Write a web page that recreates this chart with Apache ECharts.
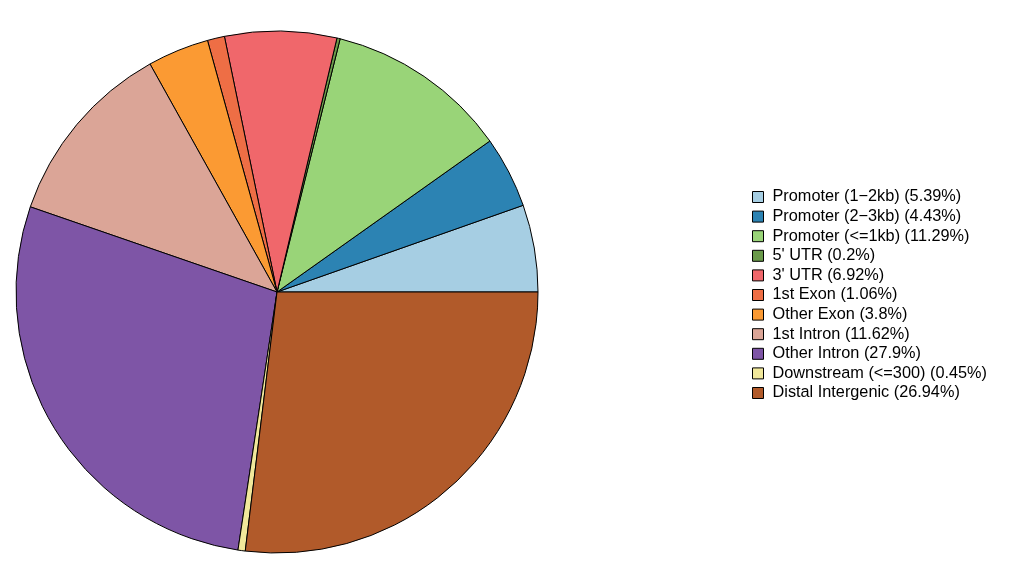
<!DOCTYPE html>
<html><head><meta charset="utf-8">
<script src="https://cdn.jsdelivr.net/npm/echarts@6/dist/echarts.min.js"></script>
<style>html,body{margin:0;padding:0;background:#fff}#c{width:1011px;height:582px}</style>
</head><body><div id="c"></div>
<script>
const categories = ["Promoter (1\u22122kb)", "Promoter (2\u22123kb)", "Promoter (<=1kb)", "5' UTR", "3' UTR", "1st Exon", "Other Exon", "1st Intron", "Other Intron", "Downstream (<=300)", "Distal Intergenic"];
const values = [5.39, 4.43, 11.29, 0.2, 6.92, 1.06, 3.8, 11.62, 27.9, 0.45, 26.94];
const colors = ["#A6CEE3", "#2C83B3", "#99D478", "#6A9A4A", "#F0676B", "#EE6E45", "#FB9A33", "#DBA597", "#7E55A6", "#F1E89B", "#B15A2A"];

const data = categories.map((c, i) => ({ name: c + " (" + values[i] + "%)", value: values[i], itemStyle: { color: colors[i] } }));

const chart = echarts.init(document.getElementById('c'), null, { renderer: 'canvas' });
chart.setOption({
  animation: false,
  backgroundColor: '#fff',
  legend: {
    orient: 'vertical',
    left: 747,
    top: 184,
    itemWidth: 11,
    itemHeight: 11,
    itemGap: 3.6,
    icon: 'rect',
    selectedMode: false,
    textStyle: { fontFamily: 'Liberation Sans, Arial', fontSize: 16.3, lineHeight: 16, color: '#000', padding: [0, 0, 0, 4] },
    itemStyle: { borderColor: '#000', borderWidth: 1 },
    data: data.map(d => d.name)
  },
  series: [{
    type: 'pie',
    center: [277, 292],
    radius: [0, 261],
    startAngle: 0,
    clockwise: false,
    label: { show: false },
    labelLine: { show: false },
    emphasis: { disabled: true },
    itemStyle: { borderColor: '#000', borderWidth: 1 },
    data: data
  }]
});
</script></body></html>
